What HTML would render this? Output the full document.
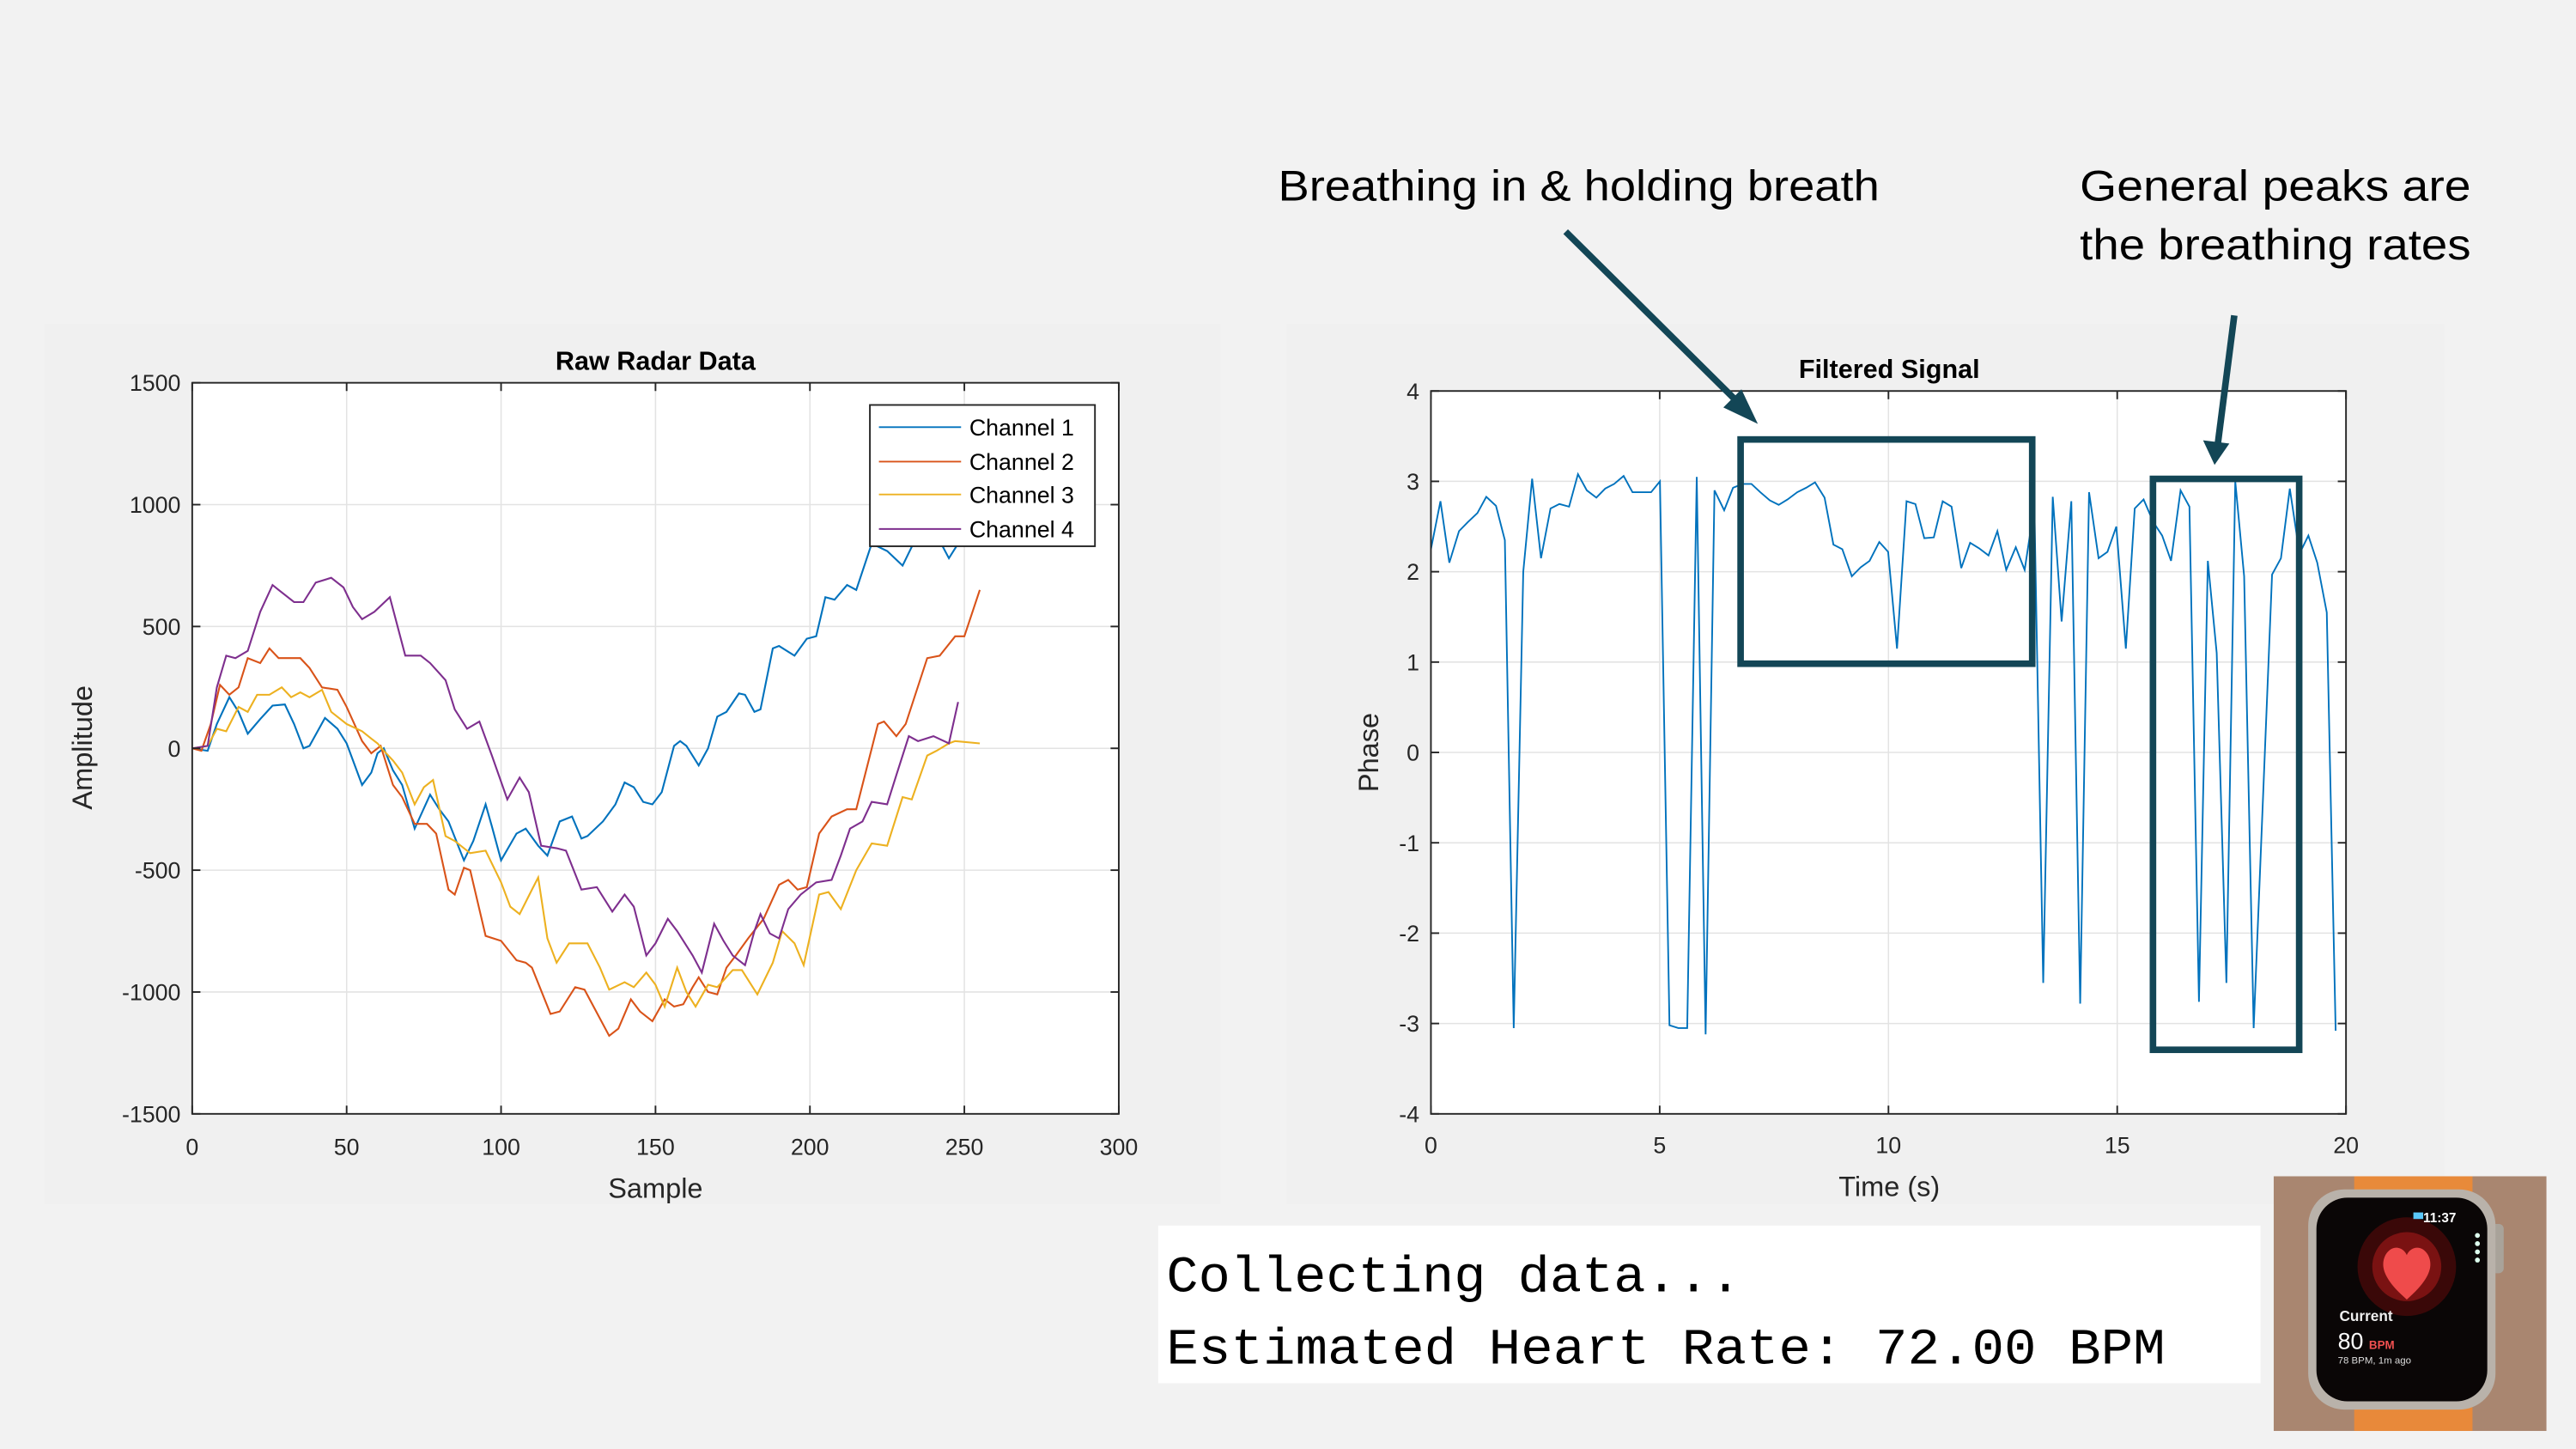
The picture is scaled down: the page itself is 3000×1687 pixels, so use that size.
<!DOCTYPE html>
<html><head><meta charset="utf-8"><style>
html,body{margin:0;padding:0;background:#f2f2f2;}
svg{display:block;}
text{font-family:"Liberation Sans",sans-serif;}
</style></head><body>
<svg id="s" width="3000" height="1687" viewBox="0 0 1568 882" preserveAspectRatio="none" xmlns="http://www.w3.org/2000/svg">
<rect x="0" y="0" width="1568" height="882" fill="#f2f2f2"/>
<rect x="27" y="197" width="716" height="536" fill="#f0f0f0"/>
<rect x="117" y="233" width="564" height="445" fill="#fff"/>
<g id="lgrid" stroke="#e3e3e3" stroke-width="0.8"></g>
<g id="lser" fill="none" stroke-width="1.1"></g>
<rect x="117" y="233" width="564" height="445" fill="none" stroke="#262626" stroke-width="1"/>
<g id="lticks" font-size="14" fill="#262626"></g>
<text x="399" y="225" font-size="16" font-weight="bold" text-anchor="middle" fill="#000">Raw Radar Data</text>
<text x="399" y="729" font-size="17" text-anchor="middle" fill="#262626">Sample</text>
<text transform="translate(56,455) rotate(-90)" font-size="17" text-anchor="middle" fill="#262626">Amplitude</text>
<rect x="529.5" y="246.5" width="137" height="86" fill="#fff" stroke="#262626" stroke-width="1"/>
<g font-size="14" fill="#000">
<line x1="535" y1="260" x2="585" y2="260" stroke="#0072bd"/><text x="590" y="265">Channel 1</text>
<line x1="535" y1="281" x2="585" y2="281" stroke="#d95319"/><text x="590" y="286">Channel 2</text>
<line x1="535" y1="301" x2="585" y2="301" stroke="#edb120"/><text x="590" y="306">Channel 3</text>
<line x1="535" y1="322" x2="585" y2="322" stroke="#7e2f8e"/><text x="590" y="327">Channel 4</text>
</g>
<rect x="783" y="197" width="705" height="536" fill="#f0f0f0"/>
<rect x="871" y="238" width="557" height="440" fill="#fff"/>
<g id="rgrid" stroke="#e3e3e3" stroke-width="0.8"></g>
<polyline id="rser" fill="none" stroke="#0072bd" stroke-width="1"/>
<rect x="871" y="238" width="557" height="440" fill="none" stroke="#262626" stroke-width="1"/>
<g id="rticks" font-size="14" fill="#262626"></g>
<text x="1150" y="230" font-size="16" font-weight="bold" text-anchor="middle" fill="#000">Filtered Signal</text>
<text x="1150" y="728" font-size="17" text-anchor="middle" fill="#262626">Time (s)</text>
<text transform="translate(839,458) rotate(-90)" font-size="17" text-anchor="middle" fill="#262626">Phase</text>
<g stroke="#134656" fill="none" stroke-width="4">
<rect x="1059.5" y="267.5" width="177.5" height="136.5"/>
<rect x="1310.5" y="291.5" width="89" height="347.5"/>
<line x1="953" y1="141" x2="1060" y2="247"/>
<line x1="1360" y1="192" x2="1350" y2="270"/>
</g>
<polygon points="1070,258 1049,248 1060,237" fill="#134656"/>
<polygon points="1348,283 1341,268 1357,270" fill="#134656"/>
<g font-size="26" fill="#000">
<text x="778" y="122" textLength="366" lengthAdjust="spacingAndGlyphs">Breathing in &amp; holding breath</text>
<text x="1266" y="122" textLength="238" lengthAdjust="spacingAndGlyphs">General peaks are</text>
<text x="1266" y="158" textLength="238" lengthAdjust="spacingAndGlyphs">the breathing rates</text>
</g>
<rect x="705" y="746" width="671" height="96" fill="#fff"/>
<g font-size="31" fill="#000">
<text x="710" y="786" textLength="350" lengthAdjust="spacingAndGlyphs" style="font-family:'Liberation Mono',monospace">Collecting data...</text>
<text x="710" y="830" textLength="608" lengthAdjust="spacingAndGlyphs" style="font-family:'Liberation Mono',monospace">Estimated Heart Rate: 72.00 BPM</text>
</g>
<rect x="1384" y="716" width="166" height="155" fill="#a98670"/>
<rect x="1433" y="716" width="72" height="12" fill="#e88a3a"/>
<rect x="1433" y="850" width="72" height="21" fill="#e8893a"/>
<rect x="1515" y="745" width="9" height="30" rx="3" fill="#a9a39a"/>
<rect x="1405" y="724" width="114" height="134" rx="22" fill="#b9b2aa"/>
<rect x="1410" y="729" width="104" height="124" rx="19" fill="#0a0606"/>
<ellipse cx="1465" cy="771" rx="30" ry="30" fill="#3a0808"/>
<ellipse cx="1465" cy="771" rx="21" ry="21" fill="#7a1212"/>
<path d="M1465,791 C1450,778 1449,770 1452,764 C1456,757 1463,759 1465,764 C1467,759 1474,757 1478,764 C1481,770 1480,778 1465,791 Z" fill="#ef4b4b"/>
<text x="1475" y="744" font-size="8" font-weight="bold" fill="#fff">11:37</text>
<rect x="1469" y="738" width="6" height="4" fill="#5ac8fa"/>
<g fill="#dfe"><circle cx="1508" cy="752" r="1.5"/><circle cx="1508" cy="757" r="1.5"/><circle cx="1508" cy="762" r="1.5"/><circle cx="1508" cy="767" r="1.5"/></g>
<text x="1424" y="804" font-size="9" font-weight="bold" fill="#eee">Current</text>
<text x="1423" y="821" font-size="14" fill="#fff">80</text>
<text x="1442" y="821" font-size="7" font-weight="bold" fill="#f05050">BPM</text>
<text x="1423" y="830" font-size="6" fill="#ddd">78 BPM, 1m ago</text>
</svg>
<script>
var NS="http://www.w3.org/2000/svg";
function el(p,t,a,txt){var e=document.createElementNS(NS,t);for(var k in a)e.setAttribute(k,a[k]);if(txt!=null)e.textContent=txt;document.getElementById(p).appendChild(e);return e;}
function lx(v){return 117+v*564/300;} function ly(v){return 233+(1500-v)*445/3000;}
for(var v=0;v<=300;v+=50){el('lgrid','line',{x1:lx(v),y1:233,x2:lx(v),y2:678});el('lticks','text',{x:lx(v),y:703,'text-anchor':'middle'},v);
el('lticks','line',{x1:lx(v),y1:678,x2:lx(v),y2:673,stroke:'#262626'});el('lticks','line',{x1:lx(v),y1:233,x2:lx(v),y2:238,stroke:'#262626'});}
for(var v=-1500;v<=1500;v+=500){el('lgrid','line',{x1:117,y1:ly(v),x2:681,y2:ly(v)});el('lticks','text',{x:110,y:ly(v)+5,'text-anchor':'end'},v);
el('lticks','line',{x1:117,y1:ly(v),x2:122,y2:ly(v),stroke:'#262626'});el('lticks','line',{x1:681,y1:ly(v),x2:676,y2:ly(v),stroke:'#262626'});}
var S=[
["#0072bd",[0,0,5,-10,8,100,12,210,15,150,18,60,22,120,26,175,30,180,33,100,36,0,38,10,43,125,47,80,50,20,55,-150,58,-100,60,-20,62,0,65,-90,68,-150,72,-330,77,-190,80,-250,83,-300,88,-460,91,-380,95,-230,97,-320,100,-460,105,-350,108,-330,112,-400,115,-440,119,-300,123,-280,126,-370,128,-360,133,-300,137,-230,140,-140,143,-160,146,-220,149,-230,152,-180,156,10,158,30,160,10,164,-70,167,0,170,130,173,150,177,225,179,220,182,150,184,160,188,410,190,420,195,380,199,450,202,460,205,620,208,610,212,670,215,650,220,840,225,810,230,750,235,880,240,900,245,780,248,840,255,1000]],
["#d95319",[0,0,3,-10,6,100,9,260,12,220,15,250,18,370,22,350,25,410,28,370,35,370,38,330,42,250,47,240,50,170,55,30,58,-20,61,10,65,-150,68,-200,72,-310,76,-310,79,-350,83,-580,85,-600,88,-490,90,-500,95,-770,100,-790,105,-870,108,-880,110,-900,116,-1090,119,-1080,124,-980,127,-990,135,-1180,138,-1150,142,-1030,145,-1080,149,-1120,153,-1030,156,-1060,159,-1050,162,-980,164,-940,167,-1000,170,-1010,173,-900,176,-850,180,-780,185,-700,190,-560,193,-540,196,-580,199,-570,203,-350,207,-280,212,-250,215,-250,222,100,224,110,228,50,231,100,238,370,242,380,247,460,250,460,255,650]],
["#edb120",[0,0,5,10,8,80,11,70,15,170,18,150,21,220,25,220,29,250,32,210,35,230,38,210,42,240,45,150,50,100,55,70,58,40,60,20,62,-10,65,-50,68,-100,72,-230,75,-160,78,-130,82,-360,85,-380,90,-430,95,-420,100,-550,103,-650,106,-680,110,-580,112,-530,115,-780,118,-880,122,-800,128,-800,132,-900,135,-990,140,-960,143,-980,147,-920,150,-970,153,-1060,157,-900,160,-1000,163,-1060,167,-970,170,-980,175,-910,178,-910,183,-1010,188,-880,191,-750,195,-800,198,-890,203,-600,206,-590,210,-660,215,-500,220,-390,225,-400,230,-200,233,-210,238,-30,241,-10,245,20,247,30,255,20]],
["#7e2f8e",[0,0,5,10,8,250,11,380,14,370,18,400,22,560,26,670,28,650,33,600,36,600,40,680,45,700,49,660,52,580,55,530,59,560,64,620,69,380,74,380,77,350,82,280,85,160,89,80,93,110,97,-30,102,-210,106,-120,109,-180,113,-400,118,-410,121,-420,126,-580,131,-570,136,-670,140,-600,143,-650,147,-850,150,-800,154,-700,157,-750,162,-850,165,-920,169,-720,172,-790,175,-850,179,-890,182,-750,184,-680,187,-760,190,-780,193,-660,197,-600,202,-550,207,-540,210,-440,213,-330,217,-300,220,-220,225,-230,228,-110,232,50,235,30,240,50,245,20,248,190]]];
S.forEach(function(s){var d=s[1],p=[];for(var i=0;i<d.length;i+=2)p.push(lx(d[i]).toFixed(1)+","+ly(d[i+1]).toFixed(1));el('lser','polyline',{points:p.join(' '),stroke:s[0]});});
function rx(v){return 871+v*557/20;} function ry(v){return 238+(4-v)*55;}
for(var v=0;v<=20;v+=5){el('rgrid','line',{x1:rx(v),y1:238,x2:rx(v),y2:678});el('rticks','text',{x:rx(v),y:702,'text-anchor':'middle'},v);
el('rticks','line',{x1:rx(v),y1:678,x2:rx(v),y2:673,stroke:'#262626'});el('rticks','line',{x1:rx(v),y1:238,x2:rx(v),y2:243,stroke:'#262626'});}
for(var v=-4;v<=4;v+=1){el('rgrid','line',{x1:871,y1:ry(v),x2:1428,y2:ry(v)});el('rticks','text',{x:864,y:ry(v)+5,'text-anchor':'end'},v);
el('rticks','line',{x1:871,y1:ry(v),x2:876,y2:ry(v),stroke:'#262626'});el('rticks','line',{x1:1428,y1:ry(v),x2:1423,y2:ry(v),stroke:'#262626'});}
var R=[193,2.25,206,2.78,218,2.1,231,2.45,243,2.55,256,2.65,268,2.83,281,2.73,293,2.35,305,-3.05,318,2.0,330,3.03,342,2.15,355,2.7,367,2.75,380,2.72,392,3.08,404,2.9,417,2.82,429,2.92,441,2.97,454,3.06,466,2.88,478,2.88,491,2.88,503,3.0,516,-3.02,528,-3.05,540,-3.05,553,3.05,565,-3.12,577,2.9,590,2.68,602,2.93,615,2.97,627,2.97,639,2.88,652,2.79,664,2.74,676,2.8,689,2.88,701,2.93,713,2.99,726,2.82,738,2.3,750,2.25,763,1.95,775,2.05,787,2.12,800,2.33,812,2.22,824,1.15,837,2.78,849,2.75,861,2.37,874,2.38,886,2.78,898,2.72,911,2.04,923,2.32,935,2.26,948,2.18,960,2.45,972,2.02,985,2.27,997,2.02,1010,2.73,1022,-2.55,1035,2.83,1047,1.45,1060,2.78,1072,-2.78,1084,2.88,1097,2.15,1109,2.22,1121,2.5,1134,1.15,1146,2.7,1158,2.8,1171,2.55,1183,2.4,1195,2.12,1208,2.9,1220,2.72,1233,-2.76,1245,2.12,1257,1.1,1270,-2.55,1282,3.0,1294,1.95,1307,-3.05,1332,1.97,1344,2.15,1356,2.92,1369,2.2,1381,2.4,1393,2.1,1406,1.55,1418,-3.08];
var p=[];for(var i=0;i<R.length;i+=2){var t=(R[i]-193)/61.95;p.push(rx(t).toFixed(1)+","+ry(R[i+1]).toFixed(1));}
document.getElementById('rser').setAttribute('points',p.join(' '));
</script>
</body></html>
